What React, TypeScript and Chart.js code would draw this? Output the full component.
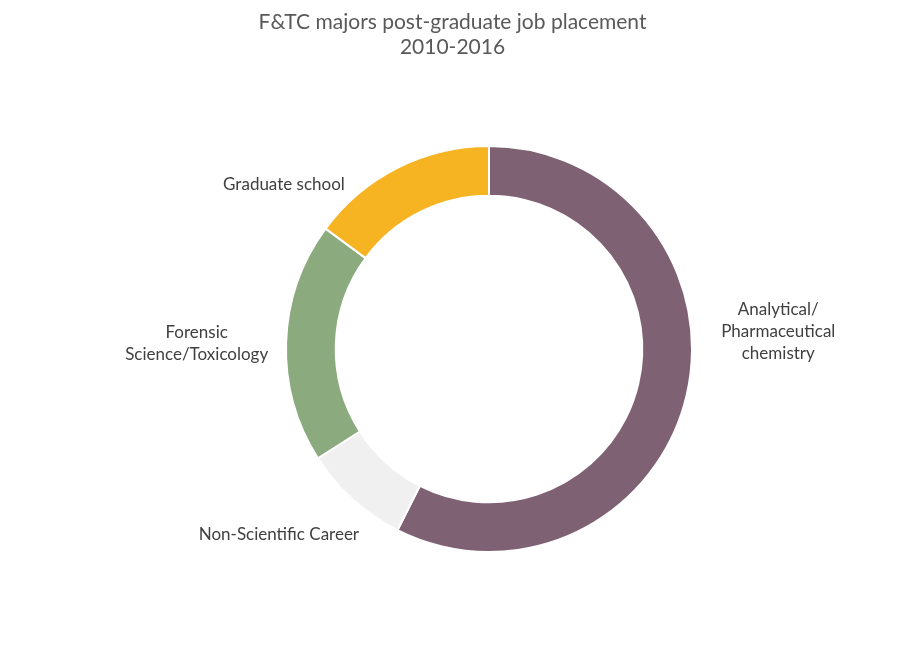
import React, { useEffect, useRef } from "react";
import { Chart, registerables } from "chart.js";

Chart.register(...registerables);

const titleLines = ["F&TC majors post-graduate job placement", "2010-2016"];
const categories = [
  "Analytical/ Pharmaceutical chemistry",
  "Non-Scientific Career",
  "Forensic Science/Toxicology",
  "Graduate school",
];
const labelLines = [
  ["Analytical/", "Pharmaceutical", "chemistry"],
  ["Non-Scientific Career"],
  ["Forensic", "Science/Toxicology"],
  ["Graduate school"],
];
const values = [27, 4, 9, 7];
const colors = ["#7F6174", "#F0F0F0", "#8BAA7D", "#F6B322"];

// label placement relative to doughnut centre, in units of the outer radius
const labelOffsets = [
  [1.425, -0.084],
  [-1.035, 0.916],
  [-1.44, -0.025],
  [-1.01, -0.81],
];

const FONT = "Lato, 'Open Sans', sans-serif";

const labelsPlugin = {
  id: "outerLabels",
  afterDraw(chart: any) {
    const ctx = chart.ctx;
    const meta = chart.getDatasetMeta(0);
    ctx.save();
    // title
    ctx.fillStyle = "#595959";
    ctx.font = `21px ${FONT}`;
    ctx.textAlign = "center";
    ctx.textBaseline = "middle";
    titleLines.forEach((t, i) => ctx.fillText(t, chart.width / 2 - 2, 22 + i * 25));
    // labels
    ctx.fillStyle = "#404040";
    ctx.font = `17px ${FONT}`;
    meta.data.forEach((arc: any, i: number) => {
      const r = arc.outerRadius;
      const cx = arc.x + labelOffsets[i][0] * r;
      const cy = arc.y + labelOffsets[i][1] * r;
      const lines = labelLines[i];
      const lh = 22;
      lines.forEach((ln, j) => {
        ctx.fillText(ln, cx, cy + (j - (lines.length - 1) / 2) * lh);
      });
    });
    ctx.restore();
  },
};

export default function App() {
  const ref = useRef<HTMLCanvasElement | null>(null);
  useEffect(() => {
    if (!ref.current) return;
    const chart = new Chart(ref.current, {
      type: "doughnut",
      data: {
        labels: categories,
        datasets: [
          {
            data: values,
            backgroundColor: colors,
            borderColor: "#ffffff",
            borderWidth: 2,
          },
        ],
      },
      options: {
        animation: false,
        responsive: false,
        cutout: "75.5%",
        layout: { padding: { left: 285, right: 216, top: 145, bottom: 106 } },
        plugins: {
          legend: { display: false },
          tooltip: { enabled: false },
          title: { display: false },
        },
        events: [],
      },
      plugins: [labelsPlugin],
    });
    return () => chart.destroy();
  }, []);
  return (
    <div style={{ position: "fixed", left: 0, top: 0, width: 909, height: 659, background: "#fff" }}>
      <canvas ref={ref} width={909} height={659} style={{ width: 909, height: 659 }} />
    </div>
  );
}
